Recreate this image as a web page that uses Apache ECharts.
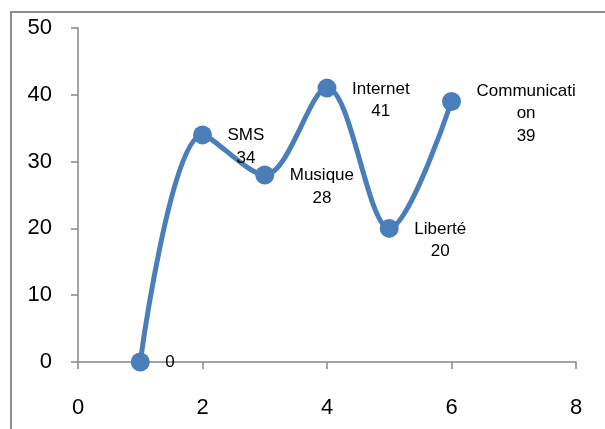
<!DOCTYPE html>
<html>
<head>
<meta charset="utf-8">
<script src="https://cdn.jsdelivr.net/npm/echarts@6/dist/echarts.min.js"></script>
<style>
html,body{margin:0;padding:0;background:#fff;}
#c{width:605px;height:429px;}
</style>
</head>
<body>
<div id="c"></div>
<script>
// Data
const xValues = [1, 2, 3, 4, 5, 6];
const yValues = [0, 34, 28, 41, 20, 39];
const pointNames = ['', 'SMS', 'Musique', 'Internet', 'Liberté', 'Communication'];
const xTicks = [0, 2, 4, 6, 8];
const yTicks = [0, 10, 20, 30, 40, 50];

const FONT = '"Liberation Sans", Arial, sans-serif';
const LABEL_SIZE = 17;
const WRAP = 11;

function wrapName(n) {
  const out = [];
  for (let i = 0; i < n.length; i += WRAP) out.push(n.slice(i, i + WRAP));
  return out;
}
const ctx = document.createElement('canvas').getContext('2d');
ctx.font = LABEL_SIZE + 'px ' + FONT;

const seriesData = xValues.map((x, i) => {
  const lines = (pointNames[i] ? wrapName(pointNames[i]) : []).concat([String(yValues[i])]);
  const w = Math.max(...lines.map(l => ctx.measureText(l).width));
  return {
    value: [x, yValues[i]],
    label: {
      formatter: lines.join('\n'),
      offset: [25 + w / 2, lines.length > 1 ? 12 : 0]
    }
  };
});

const chart = echarts.init(document.getElementById('c'), null, {renderer: 'canvas'});
chart.setOption({
  animation: false,
  backgroundColor: '#fff',
  graphic: [{
    type: 'rect',
    shape: {x: 11, y: 12, width: 700, height: 500},
    style: {fill: 'none', stroke: '#8c8c8c', lineWidth: 2},
    silent: true, z: -1
  }],
  grid: {left: 78, right: 29, top: 28, bottom: 67},
  xAxis: {
    type: 'value', min: xTicks[0], max: xTicks[xTicks.length - 1], interval: 2,
    axisLine: {show: true, lineStyle: {color: '#868686', width: 1.5}},
    axisTick: {show: true, inside: false, length: 7, lineStyle: {color: '#868686', width: 1.5}},
    splitLine: {show: false},
    axisLabel: {color: '#000', fontSize: 22, fontFamily: FONT, margin: 35}
  },
  yAxis: {
    type: 'value', min: yTicks[0], max: yTicks[yTicks.length - 1], interval: 10,
    axisLine: {show: true, lineStyle: {color: '#868686', width: 1.5}},
    axisTick: {show: true, inside: false, length: 7, lineStyle: {color: '#868686', width: 1.5}},
    splitLine: {show: false},
    axisLabel: {color: '#000', fontSize: 22, fontFamily: FONT, margin: 26}
  },
  series: [{
    type: 'line',
    smooth: 0.33,
    data: seriesData,
    symbol: 'circle',
    symbolSize: 19,
    lineStyle: {color: '#4a7ebb', width: 5},
    itemStyle: {color: '#4a7ebb'},
    label: {
      show: true, position: 'inside', align: 'center', verticalAlign: 'middle',
      color: '#000', fontSize: LABEL_SIZE, fontFamily: FONT, lineHeight: 22.5
    }
  }]
});
</script>
</body>
</html>
